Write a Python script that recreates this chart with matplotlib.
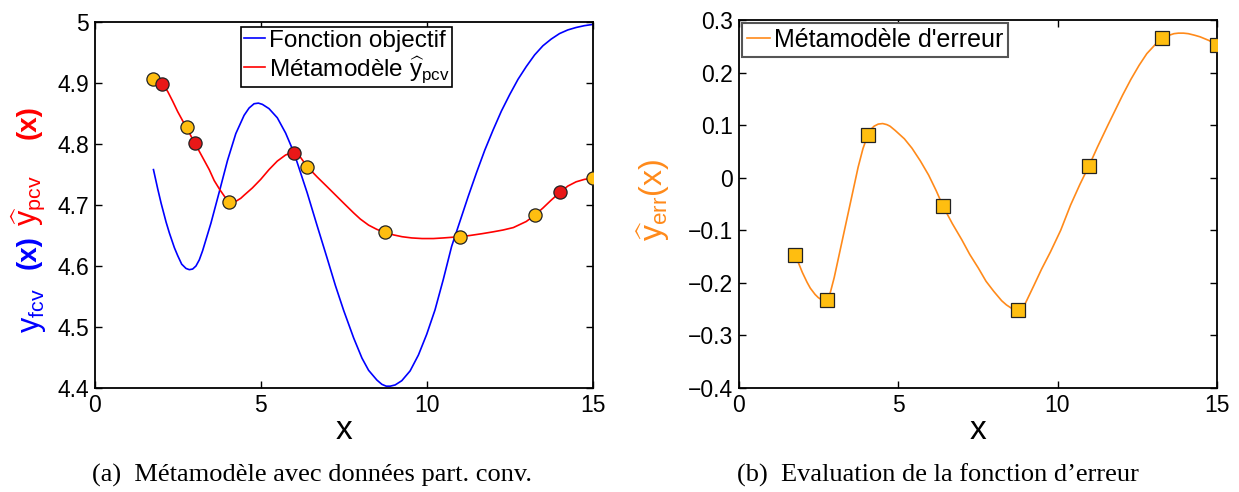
import numpy as np
import matplotlib
matplotlib.use("Agg")
import matplotlib.pyplot as plt

plt.rcParams['font.family'] = ['Liberation Sans', 'DejaVu Sans']
plt.rcParams['mathtext.fontset'] = 'custom'
plt.rcParams['mathtext.rm'] = 'Liberation Sans'
plt.rcParams['mathtext.it'] = 'Liberation Sans:italic'

# objective function (blue curve)
obj_x = [1.77, 1.9, 2.0, 2.15, 2.25, 2.4, 2.5, 2.62, 2.75, 2.85, 2.95, 3.05, 3.15, 3.25,
         3.5, 3.75, 4.0, 4.25, 4.5, 4.65, 4.8, 4.93, 5.05, 5.25, 5.5, 5.75, 6.0, 6.4,
         6.7, 7.0, 7.25, 7.5, 7.8, 8.05, 8.25, 8.5, 8.65, 8.78, 8.9, 9.05, 9.25, 9.5,
         9.75, 10.0, 10.25, 10.5, 10.75, 11.0, 11.25, 11.5, 11.75, 12.0, 12.25, 12.5,
         12.75, 13.0, 13.25, 13.5, 13.75, 14.0, 14.25, 14.5, 14.75, 15.0]
obj_y = [4.758, 4.726, 4.703, 4.672, 4.654, 4.630, 4.617, 4.603, 4.596, 4.594, 4.595,
         4.600, 4.610, 4.625, 4.670, 4.721, 4.773, 4.817, 4.847, 4.859, 4.866, 4.867,
         4.865, 4.858, 4.843, 4.818, 4.786, 4.720, 4.666, 4.613, 4.568, 4.527, 4.482,
         4.449, 4.429, 4.413, 4.406, 4.403, 4.403, 4.405, 4.412, 4.428, 4.454, 4.488,
         4.528, 4.578, 4.632, 4.673, 4.714, 4.753, 4.790, 4.823, 4.854, 4.881, 4.906,
         4.927, 4.946, 4.961, 4.972, 4.981, 4.987, 4.991, 4.994, 4.996]

# metamodel y_pcv (red curve)
meta_x = [1.77, 2.04, 2.2, 2.35, 2.5, 2.65, 2.78, 2.9, 3.02, 3.25, 3.45, 3.6, 3.77,
          3.95, 4.05, 4.15, 4.25, 4.4, 4.5, 4.75, 5.0, 5.25, 5.5, 5.75, 5.9, 6.0, 6.1,
          6.2, 6.4, 6.7, 7.0, 7.5, 7.8, 8.0, 8.25, 8.5, 8.75, 9.0, 9.26, 9.55, 9.86,
          10.2, 10.5, 10.99, 11.3, 11.67, 12.0, 12.3, 12.61, 13.0, 13.27, 13.5, 13.75,
          14.02, 14.25, 14.5, 14.75, 15.0]
meta_y = [4.906, 4.899, 4.886, 4.870, 4.853, 4.838, 4.826, 4.813, 4.801, 4.778, 4.758,
          4.740, 4.725, 4.711, 4.706, 4.704, 4.706, 4.711, 4.716, 4.728, 4.742, 4.758,
          4.772, 4.782, 4.785, 4.786, 4.784, 4.778, 4.763, 4.746, 4.730, 4.703, 4.687,
          4.677, 4.667, 4.660, 4.655, 4.651, 4.648, 4.646, 4.645, 4.645, 4.646, 4.648,
          4.650, 4.653, 4.656, 4.659, 4.663, 4.673, 4.684, 4.695, 4.708, 4.721, 4.731,
          4.738, 4.742, 4.744]

# evaluated points (yellow) and partially converged points (red)
eval_x = [1.77, 2.78, 4.05, 6.40, 8.75, 10.99, 13.27, 15.0]
eval_y = [4.907, 4.828, 4.705, 4.763, 4.655, 4.648, 4.684, 4.744]
pcv_x = [2.04, 3.02, 6.0, 14.02]
pcv_y = [4.899, 4.801, 4.786, 4.721]

# error at evaluated points and error metamodel (orange curve)
err_y = [-0.147, -0.232, 0.081, -0.054, -0.252, 0.023, 0.265, 0.252]
err_cx = [1.77, 1.9, 2.0, 2.15, 2.25, 2.4, 2.5, 2.6, 2.7, 2.78, 2.88, 3.0, 3.25, 3.5,
          3.75, 3.9, 4.05, 4.15, 4.25, 4.38, 4.52, 4.65, 4.75, 4.91, 5.2, 5.44, 5.7,
          5.96, 6.2, 6.41, 6.7, 7.0, 7.25, 7.52, 7.76, 8.0, 8.25, 8.4, 8.55, 8.68, 8.8,
          8.9, 9.0, 9.26, 9.5, 9.78, 10.1, 10.41, 10.7, 10.99, 11.25, 11.58, 12.04,
          12.3, 12.56, 12.8, 13.09, 13.27, 13.5, 13.65, 13.79, 13.95, 14.1, 14.3, 14.47,
          14.75, 15.0]
err_cy = [-0.147, -0.165, -0.180, -0.199, -0.210, -0.222, -0.228, -0.232, -0.234,
          -0.232, -0.218, -0.190, -0.120, -0.050, 0.020, 0.055, 0.081, 0.092, 0.098,
          0.102, 0.103, 0.101, 0.098, 0.090, 0.074, 0.056, 0.032, 0.005, -0.025, -0.054,
          -0.087, -0.118, -0.146, -0.172, -0.197, -0.216, -0.234, -0.242, -0.248,
          -0.251, -0.251, -0.247, -0.238, -0.205, -0.174, -0.141, -0.100, -0.052,
          -0.013, 0.023, 0.058, 0.100, 0.157, 0.187, 0.214, 0.236, 0.255, 0.264, 0.271,
          0.274, 0.275, 0.275, 0.274, 0.271, 0.268, 0.261, 0.252]

left_yticks = [4.4, 4.5, 4.6, 4.7, 4.8, 4.9, 5.0]
left_ylabels = ['4.4', '4.5', '4.6', '4.7', '4.8', '4.9', '5']
right_yticks = [-0.4, -0.3, -0.2, -0.1, 0.0, 0.1, 0.2, 0.3]
right_ylabels = ['\u22120.4', '\u22120.3', '\u22120.2', '\u22120.1', '0', '0.1', '0.2', '0.3']
xticks = [0, 5, 10, 15]

W, H = 1239, 492
fig = plt.figure(figsize=(W / 100, H / 100), dpi=100)
ax1 = fig.add_axes([94.7 / W, 1 - 388 / H, 498 / W, 366 / H])
ax2 = fig.add_axes([738.5 / W, 1 - 388 / H, 478.5 / W, 368 / H])

yellow = '#FFBE10'
red = '#E81818'
orange = '#FF8A1A'

ax1.plot(obj_x, obj_y, color='#0000FF', lw=1.2, label='Fonction objectif')
ax1.plot(meta_x, meta_y, color='#FF0000', lw=1.2,
         label=r'Métamodèle $\widehat{\mathrm{y}}_{\mathrm{pcv}}$')
ax1.plot(eval_x, eval_y, 'o', ms=9.5, mfc=yellow, mec='#222222', mew=0.9, zorder=5)
ax1.plot(pcv_x, pcv_y, 'o', ms=9.5, mfc=red, mec='#222222', mew=0.9, zorder=5)
ax1.set_xlim(0, 15)
ax1.set_ylim(4.4, 5.0)
ax1.set_yticks(left_yticks)
ax1.set_yticklabels(left_ylabels)
leg1 = ax1.legend(loc='upper left', bbox_to_anchor=(0.294, 0.986), fontsize=17.5,
                  handlelength=0.9, handletextpad=0.15, borderpad=0.1,
                  labelspacing=0.1, fancybox=False, framealpha=1, borderaxespad=0)
leg1.get_frame().set_edgecolor('black')
leg1.get_frame().set_linewidth(1.2)

ax2.plot(err_cx, err_cy, color=orange, lw=1.2, label="Métamodèle d'erreur")
ax2.plot(eval_x, err_y, 's', ms=10.5, mfc=yellow, mec='#222222', mew=0.9, zorder=5)
ax2.set_xlim(0, 15)
ax2.set_ylim(-0.4, 0.3)
ax2.set_yticks(right_yticks)
ax2.set_yticklabels(right_ylabels)
leg2 = ax2.legend(loc='upper left', bbox_to_anchor=(0.008, 0.992), fontsize=18,
                  handlelength=0.9, handletextpad=0.15, borderpad=0.2,
                  fancybox=False, framealpha=1, borderaxespad=0)
leg2.get_frame().set_edgecolor('#555555')
leg2.get_frame().set_linewidth(1.5)

for ax in (ax1, ax2):
    ax.set_xticks(xticks)
    ax.tick_params(direction='in', top=True, right=True, length=5, width=1,
                   labelsize=16.5, pad=4)
    for s in ax.spines.values():
        s.set_linewidth(1.3)
    ax.set_xlabel('x', fontsize=24, labelpad=-1)

# multicoloured y label on the left panel
fig.text(33 / W, 1 - 311 / H, r'$\mathrm{y}_{\mathrm{fcv}}$', color='#0000FF',
         rotation=90, fontsize=22, ha='center', va='center')
fig.text(29 / W, 1 - 252 / H, '(x)', color='#0000FF', fontweight='bold',
         rotation=90, fontsize=20, ha='center', va='center')
fig.text(29 / W, 1 - 201 / H, r'$\widehat{\mathrm{y}}_{\mathrm{pcv}}$', color='#FF0000',
         rotation=90, fontsize=22, ha='center', va='center')
fig.text(29 / W, 1 - 122 / H, '(x)', color='#FF0000', fontweight='bold',
         rotation=90, fontsize=20, ha='center', va='center')
fig.text(653 / W, 1 - 200 / H, r'$\widehat{\mathrm{y}}_{\mathrm{err}}$(x)', color=orange,
         rotation=90, fontsize=23, ha='center', va='center')

# captions
fig.text(312 / W, 1 - 475 / H, '(a)  Métamodèle avec données part. conv.',
         family='Liberation Serif', fontsize=19, ha='center', va='center')
fig.text(938 / W, 1 - 475 / H, '(b)  Evaluation de la fonction d\u2019erreur',
         family='Liberation Serif', fontsize=19, ha='center', va='center')

fig.savefig('out.png', dpi=100)
